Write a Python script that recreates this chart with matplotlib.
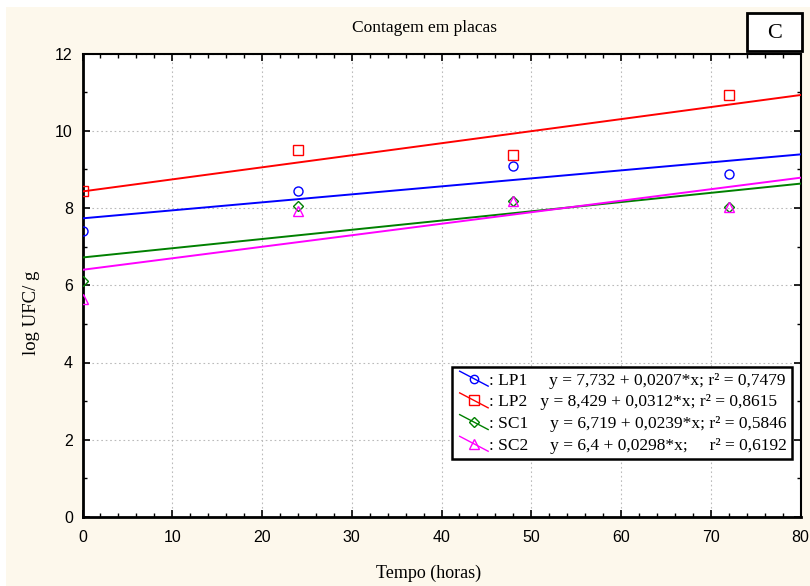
import matplotlib.pyplot as plt
import numpy as np
from matplotlib.lines import Line2D
from matplotlib.patches import Rectangle
from matplotlib.legend_handler import HandlerBase

# dados
tempo = [0, 24, 48, 72]
series = ['LP1', 'LP2', 'SC1', 'SC2']
lp1 = [7.41, 8.45, 9.10, 8.88]
lp2 = [8.43, 9.49, 9.37, 10.92]
sc1 = [6.12, 8.04, 8.17, 8.02]
sc2 = [5.65, 7.93, 8.17, 8.02]
intercepto = [7.732, 8.429, 6.719, 6.4]
inclinacao = [0.0207, 0.0312, 0.0239, 0.0298]
eq_textos = ['y = 7,732 + 0,0207*x; r² = 0,7479',
             'y = 8,429 + 0,0312*x; r² = 0,8615',
             ' y = 6,719 + 0,0239*x; r² = 0,5846',
             ' y = 6,4 + 0,0298*x;     r² = 0,6192']
espacos = ['     ', '   ', '    ', '    ']

cores = ['#0000ff', '#ff0000', '#008000', '#ff00ff']
marcadores = ['o', 's', 'D', '^']
tamanhos = [6.5, 7, 5.5, 7]
valores = [lp1, lp2, sc1, sc2]

serif = ['Liberation Serif', 'DejaVu Serif']
sans = ['Liberation Sans', 'DejaVu Sans']


class Diagonal(HandlerBase):
    # linha inclinada com o marcador no meio, como no Statistica
    def create_artists(self, legend, orig, xdescent, ydescent, width, height, fontsize, trans):
        x0, x1 = -xdescent + 2, width - xdescent
        y0, y1 = height - ydescent + 1, -ydescent - 1
        ln = Line2D([x0, x1], [y0, y1], color=orig.get_color(), lw=1.0, transform=trans)
        mk = Line2D([(x0 + x1) / 2], [(y0 + y1) / 2], linestyle='none',
                    marker=orig.get_marker(), ms=orig.get_markersize() - 0.5,
                    mfc='none', mec=orig.get_color(), mew=1.0, transform=trans)
        return [ln, mk]


W, H = 810, 586
fig = plt.figure(figsize=(W / 100, H / 100), dpi=100, facecolor='white')
# fundo creme com margem branca
fig.patches.append(Rectangle((6 / W, 0), 1 - 6 / W, 1 - 7 / H, transform=fig.transFigure,
                             facecolor='#fdf8ec', edgecolor='none', zorder=-10))

ax = fig.add_axes([82.5 / W, 1 - 517 / H, (800.5 - 82.5) / W, (517 - 53.5) / H])
ax.set_facecolor('white')

xs = np.array([0, 80])
handles = []
for i, nome in enumerate(series):
    ax.plot(xs, intercepto[i] + inclinacao[i] * xs, color=cores[i], lw=1.4, zorder=3)
    ax.plot(tempo, valores[i], linestyle='none', marker=marcadores[i], ms=tamanhos[i],
            mfc='none', mec=cores[i], mew=1.0, zorder=4)
    handles.append(Line2D([], [], color=cores[i], lw=1.0, marker=marcadores[i], ms=tamanhos[i]))

ax.set_xlim(0, 80)
ax.set_ylim(0, 12)
ax.set_xticks(np.arange(0, 81, 10))
ax.set_yticks(np.arange(0, 13, 2))
ax.set_xticks(np.arange(0, 81, 2), minor=True)
ax.set_yticks(np.arange(0, 13, 1), minor=True)
ax.tick_params(which='both', direction='in', top=True, right=True, color='black')
ax.tick_params(which='major', length=5, width=1.2, labelsize=11.5)
ax.tick_params(axis='x', which='major', pad=9)
ax.tick_params(axis='y', which='major', pad=7)
ax.tick_params(which='minor', length=3, width=1.0)
for lab in ax.get_xticklabels() + ax.get_yticklabels():
    lab.set_family(sans)
ax.grid(True, which='major', linestyle=(0, (1.5, 2.5)), color='#bbbbbb', lw=0.8)
for lado in ['left', 'bottom']:
    ax.spines[lado].set_linewidth(2.0)
for lado in ['top', 'right']:
    ax.spines[lado].set_linewidth(1.5)

rotulos = [f': {n}{s}{e}' for n, s, e in zip(series, espacos, eq_textos)]
leg = ax.legend(handles, rotulos, loc='lower right', bbox_to_anchor=(0.9883, 0.125),
                handler_map={Line2D: Diagonal()},
                prop={'family': serif, 'size': 12.5}, frameon=True, fancybox=False,
                handlelength=1.8, handletextpad=0.05, borderpad=0.3, labelspacing=0.32,
                borderaxespad=0)
leg.get_frame().set_edgecolor('black')
leg.get_frame().set_linewidth(1.8)
leg.get_frame().set_alpha(1)

fig.text(425 / W, 1 - 28 / H, 'Contagem em placas', ha='center', va='center',
         family=serif, fontsize=12.5)
fig.text(429 / W, 1 - 573 / H, 'Tempo (horas)', ha='center', va='center',
         family=serif, fontsize=13)
fig.text(31 / W, 1 - 313 / H, 'log UFC/ g', ha='center', va='center', rotation=90,
         family=serif, fontsize=13.5)

# caixa "C"
fig.patches.append(Rectangle((747 / W, 1 - 51 / H), 55 / W, 38 / H, transform=fig.transFigure,
                             facecolor='white', edgecolor='black', lw=2.0, zorder=5))
fig.text(774.5 / W, 1 - 33 / H, 'C', ha='center', va='center', family=serif,
         fontsize=16, zorder=6)

fig.savefig('out.png', dpi=100, facecolor=fig.get_facecolor())
